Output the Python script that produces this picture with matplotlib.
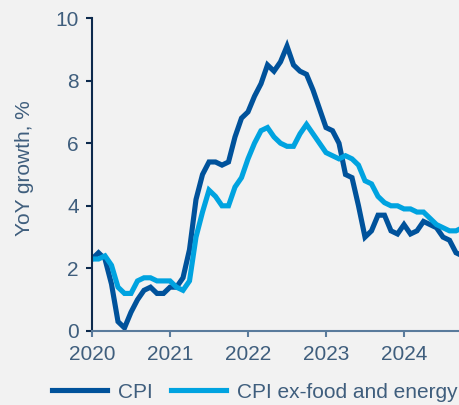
import matplotlib.pyplot as plt
import numpy as np

# monthly YoY growth, Dec 2019 .. Sep 2024 (plotted at month end)
cpi = [2.3,
       2.5, 2.3, 1.5, 0.3, 0.1, 0.6, 1.0, 1.3, 1.4, 1.2, 1.2, 1.4,
       1.4, 1.7, 2.6, 4.2, 5.0, 5.4, 5.4, 5.3, 5.4, 6.2, 6.8, 7.0,
       7.5, 7.9, 8.5, 8.3, 8.6, 9.1, 8.5, 8.3, 8.2, 7.7, 7.1, 6.5,
       6.4, 6.0, 5.0, 4.9, 4.0, 3.0, 3.2, 3.7, 3.7, 3.2, 3.1, 3.4,
       3.1, 3.2, 3.5, 3.4, 3.3, 3.0, 2.9, 2.5, 2.4]
core = [2.3,
        2.3, 2.4, 2.1, 1.4, 1.2, 1.2, 1.6, 1.7, 1.7, 1.6, 1.6, 1.6,
        1.4, 1.3, 1.6, 3.0, 3.8, 4.5, 4.3, 4.0, 4.0, 4.6, 4.9, 5.5,
        6.0, 6.4, 6.5, 6.2, 6.0, 5.9, 5.9, 6.3, 6.6, 6.3, 6.0, 5.7,
        5.6, 5.5, 5.6, 5.5, 5.3, 4.8, 4.7, 4.3, 4.1, 4.0, 4.0, 3.9,
        3.9, 3.8, 3.8, 3.6, 3.4, 3.3, 3.2, 3.2, 3.3]
years = [2020, 2021, 2022, 2023, 2024]

x = 2020 + np.arange(len(cpi)) / 12

plt.rcParams['font.family'] = ['Liberation Sans', 'DejaVu Sans']
bg = '#f2f2f2'
txt = '#3f5e7d'

fig = plt.figure(figsize=(4.59, 4.05), dpi=100, facecolor=bg)
ax = fig.add_axes([92 / 459, 1 - 331 / 405, 1 - 92 / 459, 313 / 405])
ax.set_facecolor(bg)

ax.plot(x, cpi, color='#00529b', lw=3.7, label='CPI', solid_joinstyle='miter')
ax.plot(x, core, color='#00a3e0', lw=3.7, label='CPI ex-food and energy',
        solid_joinstyle='miter')

ax.set_xlim(2020, 2020 + 367 / 78)
ax.set_ylim(0, 10)
ax.set_xticks(years)
ax.set_yticks([0, 2, 4, 6, 8, 10])

for s in ['top', 'right']:
    ax.spines[s].set_visible(False)
ax.spines['left'].set_color('#0d2a4d')
ax.spines['bottom'].set_color('#5a7b9c')
ax.spines['left'].set_linewidth(1.5)
ax.spines['bottom'].set_linewidth(1.5)
ax.tick_params(axis='y', colors='#0d2a4d', labelcolor=txt, labelsize=15,
               length=4, width=1.5, pad=5.5)
ax.tick_params(axis='x', colors='#5a7b9c', labelcolor=txt, labelsize=15,
               length=4, width=1.5, pad=6)

fig.text(25 / 459, 1 - 168 / 405, 'YoY growth, %', rotation=90, color=txt,
         fontsize=15, ha='center', va='center')

fig.legend(loc='center left', bbox_to_anchor=(52 / 459, 1 - 392 / 405),
           ncol=2, frameon=False, fontsize=15, labelcolor=txt,
           handlelength=2.65, handletextpad=0.5, columnspacing=0.9,
           borderpad=0, borderaxespad=0)

fig.savefig('out.png', dpi=100, facecolor=bg)
